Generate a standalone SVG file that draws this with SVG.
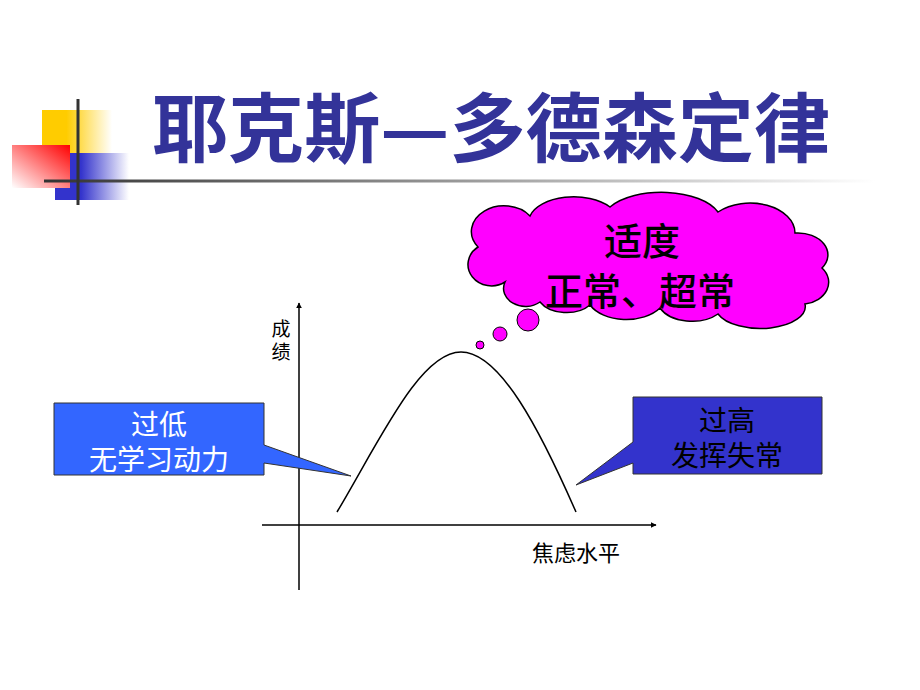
<svg xmlns="http://www.w3.org/2000/svg" width="920" height="690" viewBox="0 0 920 690">
<defs>
<linearGradient id="gY" x1="0" y1="0" x2="1" y2="0"><stop offset="0" stop-color="#FFCC00"/><stop offset="0.35" stop-color="#FFCC00"/><stop offset="1" stop-color="#FFFFFF"/></linearGradient>
<linearGradient id="gR" x1="1" y1="0" x2="0" y2="1"><stop offset="0" stop-color="#FF0000"/><stop offset="1" stop-color="#FFFFFF"/></linearGradient>
<linearGradient id="gB" x1="0" y1="0" x2="1" y2="0"><stop offset="0" stop-color="#3333CC"/><stop offset="0.35" stop-color="#3333CC"/><stop offset="1" stop-color="#FFFFFF"/></linearGradient>
<linearGradient id="gL" gradientUnits="userSpaceOnUse" x1="44" y1="0" x2="875" y2="0"><stop offset="0" stop-color="#333333"/><stop offset="1" stop-color="#FFFFFF"/></linearGradient>
<marker id="arr" viewBox="0 0 10 10" refX="9" refY="5" markerWidth="6" markerHeight="6" orient="auto" markerUnits="userSpaceOnUse"><path d="M0,0 L10,5 L0,10 Z" fill="#000"/></marker>
<style>
.cjk{font-family:"Noto Sans CJK SC","Noto Sans",sans-serif;}
.axis{stroke:#000;stroke-width:1.5;fill:none;}
.lbl{font-size:19px;fill:#000;}
.cloudtxt{font-size:38px;fill:#000;text-anchor:middle;font-weight:500;}
.calltxt{font-size:28px;text-anchor:middle;}
</style>
</defs>
<rect width="920" height="690" fill="#FFFFFF"/>
<g id="decoration">
<rect x="42" y="110" width="70" height="43" fill="url(#gY)"/>
<rect x="55" y="153" width="74" height="47" fill="url(#gB)"/>
<rect x="12" y="145" width="58" height="43" fill="url(#gR)"/>
<rect x="44" y="179.5" width="831" height="3" fill="url(#gL)"/>
<line x1="78" y1="99" x2="78" y2="205" stroke="#333333" stroke-width="3"/>
</g>
<g id="title">
<text x="152" y="156" class="cjk" font-size="75" font-weight="bold" fill="#333399" textLength="678" lengthAdjust="spacingAndGlyphs">耶克斯—多德森定律</text>
</g>
<g id="connectors">
<line class="axis" x1="299" y1="590" x2="299" y2="303" marker-end="url(#arr)"/>
<line class="axis" x1="262" y1="525" x2="656" y2="525" marker-end="url(#arr)"/>
<path class="axis" d="M337,512 C380,440 420,352 461,352 C500,352 540,430 576,512"/>
</g>
<g id="y-label">
<text x="281" y="336" class="cjk lbl" text-anchor="middle">成</text>
<text x="281" y="359" class="cjk lbl" text-anchor="middle">绩</text>
</g>
<g id="x-label">
<text x="532" y="561" class="cjk" font-size="22" fill="#000">焦虑水平</text>
</g>
<g id="cloud">
<path d="M505,282 A22,20 0 0 1 478,247 A28,22 0 0 1 530,216 A45,25 0 0 1 610,207 A60,30 0 0 1 718,212 A45,30 0 0 1 795,233 A30,22 0 0 1 822,268 A28,22 0 0 1 805,304 A45,22 0 0 1 718,314 A35,22 0 0 1 660,308 A40,25 0 0 1 590,305 A30,20 0 0 1 540,302 A22,18 0 0 1 505,282 Z" fill="#FF00FF" stroke="#000" stroke-width="1.5"/>
<circle cx="528" cy="320" r="11" fill="#FF00FF" stroke="#000" stroke-width="1"/>
<circle cx="500" cy="334" r="7" fill="#FF00FF" stroke="#000" stroke-width="1"/>
<circle cx="480" cy="345" r="4" fill="#FF00FF" stroke="#000" stroke-width="1"/>
<text x="642" y="255" class="cjk cloudtxt">适度</text>
<text x="640" y="305" class="cjk cloudtxt">正常、超常</text>
</g>
<g id="callout-low">
<path d="M54,403 H264 V445 L351,476 L264,463 V475 H54 Z" fill="#3366FF" stroke="#333333" stroke-width="1"/>
<text x="159" y="435" class="cjk calltxt" fill="#FFFFFF">过低</text>
<text x="159" y="470" class="cjk calltxt" fill="#FFFFFF">无学习动力</text>
</g>
<g id="callout-high">
<path d="M633,397 H822 V474 H633 V463 L576,485 L633,442 Z" fill="#3333CC" stroke="#333333" stroke-width="1"/>
<text x="727" y="431" class="cjk calltxt" fill="#000000">过高</text>
<text x="727" y="466" class="cjk calltxt" fill="#000000">发挥失常</text>
</g>
</svg>
